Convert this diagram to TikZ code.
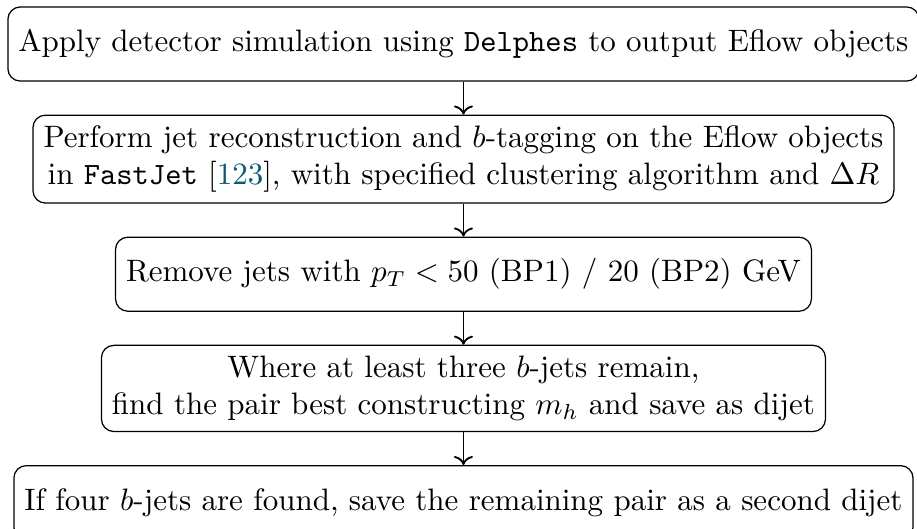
\documentclass[tikz,border=0pt]{standalone}
\usepackage{amsmath}
\usepackage{amssymb}
\usetikzlibrary{arrows.meta, positioning}

\definecolor{citecol}{rgb}{0.05,0.35,0.45}

\begin{document}
\begin{tikzpicture}[node distance=10.6pt, auto,
    stepbox/.style={draw, rounded corners=4pt, align=center, minimum height=23.9pt, inner sep=3.4pt}]
          \useasboundingbox (-149.5pt,14.2pt) rectangle (146.3pt,-156.4pt);

          \node (sim) [stepbox] {Apply detector simulation using \texttt{Delphes} to output Eflow objects};
          \node (reco) [stepbox, below = of sim] {Perform jet reconstruction and $b$-tagging on the Eflow objects\\ in \texttt{FastJet} [\textcolor{citecol}{123}], with specified clustering algorithm and $\Delta R$};
          \node (cut) [stepbox, below = of reco] {Remove jets with $p_T < 50$ (BP1) / 20 (BP2) GeV};
          \node (pair) [stepbox, below = of cut] {Where at least three $b$-jets remain,\\ find the pair best constructing $m_h$ and save as dijet};
          \node (second) [stepbox, below = of pair] {If four $b$-jets are found, save the remaining pair as a second dijet};

          \path [->, semithick]
              (sim) edge (reco)
              (reco) edge (cut)
              (cut) edge (pair)
              (pair) edge (second)
              ;
\end{tikzpicture}
\end{document}
